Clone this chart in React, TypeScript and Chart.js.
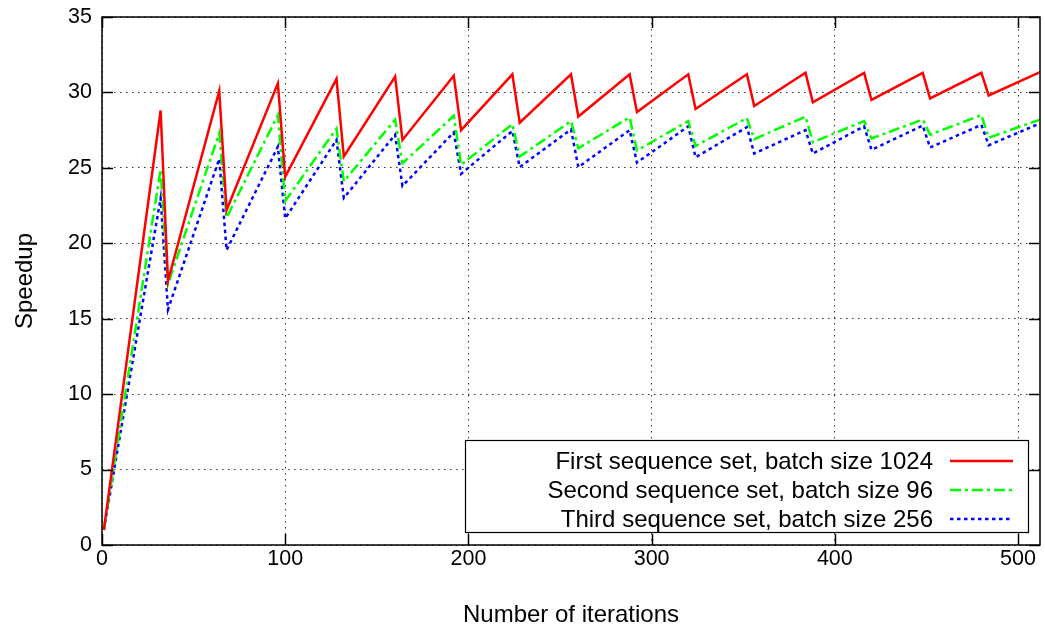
import React, { useEffect, useRef } from "react";
import { Chart, registerables } from "chart.js";

Chart.register(...registerables);

// ---- data ----
const iterations = [
  1, 32, 36, 64, 68, 96, 100, 128, 132, 160, 164, 192, 196, 224, 228, 256,
  260, 288, 292, 320, 324, 352, 356, 384, 388, 416, 420, 448, 452, 480, 484, 512,
];
const firstSet = [
  1.0, 28.8, 17.5, 30.1, 22.2, 30.6, 24.4, 30.9, 25.75, 31.05, 26.85, 31.1, 27.5, 31.2, 28.0, 31.2,
  28.4, 31.2, 28.7, 31.2, 28.9, 31.2, 29.1, 31.3, 29.35, 31.3, 29.5, 31.3, 29.6, 31.3, 29.8, 31.35,
];
const secondSet = [
  1.0, 24.9, 17.3, 27.3, 21.7, 28.5, 22.8, 27.6, 24.1, 28.2, 25.3, 28.45, 25.2, 27.9, 25.75, 28.1,
  26.3, 28.35, 26.15, 28.1, 26.45, 28.3, 26.9, 28.4, 26.7, 28.1, 26.95, 28.2, 27.2, 28.5, 27.0, 28.2,
];
const thirdSet = [
  1.0, 23.0, 15.6, 25.6, 19.55, 26.4, 21.65, 26.85, 23.0, 27.2, 23.8, 27.35, 24.6, 27.45, 25.05, 27.55,
  25.05, 27.5, 25.35, 27.75, 25.7, 27.7, 25.95, 27.5, 25.95, 27.75, 26.2, 27.8, 26.35, 27.85, 26.5, 27.95,
];
const seriesLabels = [
  "First sequence set, batch size 1024",
  "Second sequence set, batch size 96",
  "Third sequence set, batch size 256",
];
const xTicks = [0, 100, 200, 300, 400, 500];
const yTicks = [0, 5, 10, 15, 20, 25, 30, 35];
const xTitle = "Number of iterations";
const yTitle = "Speedup";

const FONT = "'Liberation Sans', Arial, Helvetica, sans-serif";
const TICK_SIZE = 21.5;
const LABEL_SIZE = 24;

const framePlugin = {
  id: "gnuplotFrame",
  afterDatasetsDraw(chart: any) {
    const { ctx, chartArea: ca, scales } = chart;
    const x = scales.x;
    const y = scales.y;
    const tl = 11;
    ctx.save();
    ctx.strokeStyle = "#000";
    ctx.lineWidth = 1.5;
    ctx.setLineDash([]);
    ctx.beginPath();
    for (const v of yTicks) {
      const py = Math.round(y.getPixelForValue(v)) + 0.5;
      ctx.moveTo(ca.left, py);
      ctx.lineTo(ca.left + tl, py);
      ctx.moveTo(ca.right, py);
      ctx.lineTo(ca.right - tl, py);
    }
    for (const v of xTicks) {
      const px = Math.round(x.getPixelForValue(v)) + 0.5;
      ctx.moveTo(px, ca.bottom);
      ctx.lineTo(px, ca.bottom - tl);
      ctx.moveTo(px, ca.top);
      ctx.lineTo(px, ca.top + tl);
    }
    ctx.stroke();
    ctx.strokeRect(ca.left, ca.top, ca.right - ca.left, ca.bottom - ca.top);
    ctx.restore();
  },
  afterDraw(chart: any) {
    const { ctx, chartArea: ca } = chart;
    const right = ca.right - 12;
    const bottom = ca.bottom - 13;
    const w = 563;
    const h = 92;
    const left = right - w;
    const top = bottom - h;
    ctx.save();
    ctx.fillStyle = "#fff";
    ctx.fillRect(left, top, w, h);
    ctx.strokeStyle = "#000";
    ctx.lineWidth = 1.2;
    ctx.setLineDash([]);
    ctx.strokeRect(left + 0.5, top + 0.5, w, h);
    ctx.font = `${LABEL_SIZE}px ${FONT}`;
    ctx.textAlign = "right";
    ctx.textBaseline = "middle";
    chart.data.datasets.forEach((ds: any, i: number) => {
      const cy = top + 21 + i * 29;
      ctx.fillStyle = "#000";
      ctx.fillText(ds.label, right - 95, cy + 1);
      ctx.strokeStyle = ds.borderColor;
      ctx.lineWidth = ds.borderWidth;
      ctx.setLineDash(ds.borderDash || []);
      ctx.beginPath();
      ctx.moveTo(right - 78, cy);
      ctx.lineTo(right - 15, cy);
      ctx.stroke();
    });
    ctx.restore();
  },
};

function toPoints(ys: number[]) {
  return iterations.map((xv, i) => ({ x: xv, y: ys[i] }));
}

export default function App() {
  const ref = useRef<HTMLCanvasElement | null>(null);
  useEffect(() => {
    if (!ref.current) return;
    const tickFont = { family: FONT, size: TICK_SIZE };
    const labelFont = { family: FONT, size: LABEL_SIZE };
    const chart = new Chart(ref.current, {
      type: "line",
      data: {
        datasets: [
          {
            label: seriesLabels[0],
            data: toPoints(firstSet),
            borderColor: "#ff0000",
            borderWidth: 2.5,
            borderDash: [],
          },
          {
            label: seriesLabels[1],
            data: toPoints(secondSet),
            borderColor: "#00ff00",
            borderWidth: 2.5,
            borderDash: [11, 4, 3, 4],
          },
          {
            label: seriesLabels[2],
            data: toPoints(thirdSet),
            borderColor: "#0000ff",
            borderWidth: 2.5,
            borderDash: [3.5, 3.5],
          },
        ] as any,
      },
      options: {
        animation: false,
        responsive: true,
        maintainAspectRatio: false,
        layout: { padding: { top: 17, right: 5, left: 0, bottom: 0 } },
        elements: {
          point: { radius: 0, hoverRadius: 0 },
          line: { tension: 0, fill: false },
        },
        plugins: {
          legend: { display: false },
          tooltip: { enabled: false },
        },
        scales: {
          x: {
            type: "linear",
            min: 0,
            max: 512,
            afterBuildTicks: (s: any) => {
              s.ticks = xTicks.map((v) => ({ value: v }));
            },
            afterFit: (s: any) => {
              s.height = 85;
              s.paddingLeft = 0;
              s.paddingRight = 0;
            },
            ticks: { color: "#000", font: tickFont, padding: 1, maxRotation: 0 },
            grid: { color: "rgba(0,0,0,0.8)", lineWidth: 1, drawTicks: false },
            border: { display: false, dash: [1.5, 4.5] },
            title: {
              display: true,
              text: xTitle,
              color: "#000",
              font: labelFont,
              padding: { top: 0, bottom: 0 },
            },
          },
          y: {
            type: "linear",
            min: 0,
            max: 35,
            afterBuildTicks: (s: any) => {
              s.ticks = yTicks.map((v) => ({ value: v }));
            },
            afterFit: (s: any) => {
              s.width = 102;
              s.paddingTop = 0;
              s.paddingBottom = 0;
            },
            ticks: { color: "#000", font: tickFont, padding: 10 },
            grid: { color: "rgba(0,0,0,0.8)", lineWidth: 1, drawTicks: false },
            border: { display: false, dash: [1.5, 4.5] },
            title: {
              display: true,
              text: yTitle,
              color: "#000",
              font: labelFont,
              padding: { top: 11, bottom: 0 },
            },
          },
        },
      } as any,
      plugins: [framePlugin],
    });
    return () => chart.destroy();
  }, []);
  return (
    <div style={{ position: "absolute", left: 0, top: 0, width: 1045, height: 630, background: "#fff" }}>
      <canvas ref={ref} />
    </div>
  );
}
